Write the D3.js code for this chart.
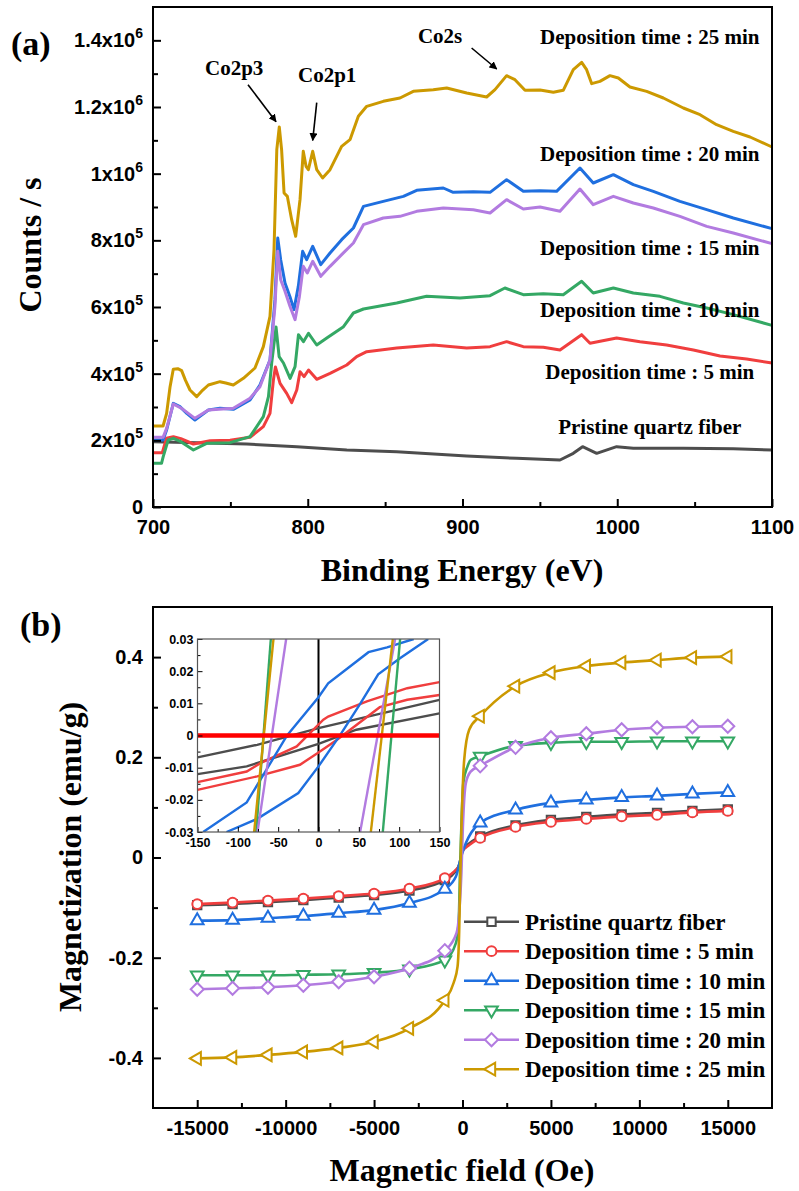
<!DOCTYPE html>
<html>
<head>
<meta charset="utf-8">
<script src="https://cdn.jsdelivr.net/npm/d3@7"></script>
<style>
	body { margin: 0; background: #fff; }
	svg { display: block; }
</style>
</head>
<body>
<svg id="chart" width="799" height="1191"></svg>
<script>
// ---- (a) XPS survey, counts in units of 10^3 ----
var xpsGray = [[700,196],[728.3,193],[760.6,189],[792.9,181],[825.2,171],[857.5,166],[902.7,153],[935,146],[963,141],[971.6,161],[977.6,181],[986.7,161],[999.6,181],[1010.4,176],[1042.7,176],[1075,175],[1100,171]];
var xpsRed = [[700,163],[706,163],[708.7,206],[713.2,211],[718,205],[726.1,189],[736.9,199],[749.8,200],[762.7,209],[771.3,241],[775.6,281],[777.8,381],[779.1,420],[782.1,371],[786.4,341],[789.6,313],[792.9,351],[795,406],[797.6,391],[800.5,411],[805.8,383],[814.4,401],[825.2,426],[831.6,451],[838.1,466],[857.5,477],[881.1,486],[902.7,477],[917.8,481],[928.5,496],[939.3,481],[952.2,479],[963,471],[977,517],[982.4,491],[999.6,507],[1014.7,496],[1031.9,486],[1049.2,471],[1066.4,453],[1083.6,444],[1100,432]];
var xpsGreen = [[700,131],[705.5,131],[706.6,151],[709.8,201],[713.2,206],[718,196],[726.1,171],[734.7,191],[749.8,193],[762.7,211],[771.3,271],[774.6,331],[776.7,432],[779.5,540],[781.5,451],[784.3,432],[788.6,386],[791.8,421],[794,517],[797.2,496],[800.5,521],[805.8,486],[812.3,507],[823.1,541],[829.5,582],[836,594],[857.5,612],[876.8,632],[898.4,627],[917.8,634],[927.4,657],[939.3,637],[952.2,640],[965.1,637],[977,677],[984.5,642],[997.5,657],[1010.4,642],[1027.6,632],[1042.7,612],[1057.8,597],[1075,577],[1100,545]];
var xpsBlue = [[700,201],[706.5,201],[708.8,231],[713.1,311],[717.4,301],[722,280],[727.1,261],[735.8,291],[743.3,296],[751.9,293],[762.7,321],[769.1,366],[775.6,441],[778.8,622],[780.6,807],[782.5,742],[785.3,672],[788.5,631],[791.1,592],[793.9,662],[796.7,767],[799.3,742],[803.2,782],[808.4,727],[814.4,762],[821.9,802],[829.5,837],[836,902],[848.8,917],[861.8,932],[870.4,950],[887.6,957],[894,944],[907,946],[917.8,944],[928.5,982],[939.3,947],[950.1,949],[960.8,947],[975.9,1017],[984.5,972],[997.5,997],[1010.4,967],[1023.3,947],[1040.5,917],[1057.8,892],[1075,867],[1100,835]];
var xpsPurple = [[700,209],[706.5,209],[708.8,236],[713.1,309],[718.5,296],[727.1,266],[735.8,291],[751.9,296],[762.7,326],[769.1,361],[775.6,441],[778.8,602],[780.6,767],[782.5,682],[785.3,647],[788.5,602],[791.8,562],[794.6,631],[797.1,722],[799.7,702],[803.2,737],[808.4,692],[814.4,722],[821.9,757],[829.5,792],[836,847],[848.8,867],[859.6,872],[870.4,887],[887.6,897],[907,892],[917.8,882],[928.5,922],[939.3,894],[950.1,900],[963,887],[975.9,954],[984.5,907],[997.5,932],[1010.4,912],[1023.3,897],[1040.5,872],[1057.8,842],[1075,822],[1100,790]];
var xpsGold = [[700,243],[706.5,243],[708.8,281],[711,360],[713.1,413],[716,415],[718.5,409],[721,380],[723.9,351],[728.2,331],[732,350],[735.8,366],[743.3,376],[747,372],[751.9,366],[758.4,386],[765.9,417],[771.3,481],[775.6,572],[778.2,772],[780,1072],[781.6,1140],[783.1,1072],[784.7,942],[786.8,932],[789.6,862],[792.2,812],[795,922],[797.1,1067],[798.9,1022],[800.4,1012],[803.2,1067],[805.8,1012],[809.6,987],[814.4,1012],[821.9,1082],[827.3,1102],[832.7,1172],[838.1,1202],[848.8,1217],[859.6,1227],[868.2,1247],[881.1,1252],[889.8,1257],[902.7,1242],[915.6,1230],[921,1252],[928.5,1294],[933.9,1282],[940.4,1250],[950.1,1251],[958.7,1244],[965.1,1250],[971.6,1312],[977,1334],[980.2,1312],[983.5,1270],[988.8,1277],[995.3,1294],[1000.7,1287],[1008.2,1260],[1019,1247],[1029.8,1227],[1042.7,1197],[1053.5,1177],[1064.2,1147],[1075,1127],[1085.8,1110],[1100,1080]];

var xpsLabels = ['Pristine quartz fiber', 'Deposition time : 5 min', 'Deposition time : 10 min', 'Deposition time : 15 min', 'Deposition time : 20 min', 'Deposition time : 25 min'];
var energyTicks = [700, 800, 900, 1000, 1100];
var energyMinor = [750, 850, 950, 1050];
var countTicks = [0, 200, 400, 600, 800, 1000, 1200, 1400];
var countMinor = [100, 300, 500, 700, 900, 1100, 1300];

// ---- (b) magnetization ----
var fieldH = [-15000,-13000,-11000,-9000,-7000,-5000,-3000,-1000,1000,3000,5000,7000,9000,11000,13000,15000];
var magGray = [-0.095,-0.093,-0.089,-0.085,-0.080,-0.075,-0.066,-0.045,0.042,0.064,0.075,0.081,0.086,0.089,0.093,0.096];
var magRed = [-0.093,-0.090,-0.086,-0.082,-0.077,-0.072,-0.062,-0.041,0.039,0.061,0.071,0.077,0.082,0.085,0.090,0.093];
var magBlue = [-0.126,-0.125,-0.121,-0.117,-0.111,-0.105,-0.091,-0.063,0.069,0.095,0.109,0.115,0.120,0.123,0.127,0.130];
var magGreen = [-0.235,-0.235,-0.235,-0.234,-0.233,-0.230,-0.223,-0.205,0.202,0.223,0.229,0.231,0.231,0.232,0.232,0.232];
var magPurple = [-0.263,-0.261,-0.259,-0.255,-0.248,-0.238,-0.221,-0.186,0.183,0.220,0.239,0.247,0.255,0.259,0.261,0.262];
var magGold = [-0.401,-0.399,-0.394,-0.388,-0.380,-0.368,-0.341,-0.285,0.282,0.342,0.369,0.382,0.389,0.394,0.399,0.401];

// points between -1000 and 1000 Oe (no markers)
var coreGray = [[-450,-0.030],[-170,-0.012],[0,0.014],[378,0.028]];
var coreRed = [[-450,-0.027],[-170,-0.015],[0,0.012],[378,0.025]];
var coreBlue = [[-373,-0.038],[-90,0.0],[192,0.029],[500,0.050]];
var coreGreen = [[-375,-0.171],[-220,-0.130],[-120,0.0],[50,0.150],[283,0.182],[475,0.195]];
var corePurple = [[-340,-0.151],[-186,-0.111],[-60,-0.030],[20,0.060],[192,0.149],[475,0.172]];
var coreGold = [[-500,-0.250],[-280,-0.218],[-186,-0.145],[-130,-0.045],[96,0.195],[378,0.255]];

var fieldTicks = [-15000, -10000, -5000, 0, 5000, 10000, 15000];
var fieldMinor = [-12500, -7500, -2500, 2500, 7500, 12500];
var magTicks = [-0.4, -0.2, 0, 0.2, 0.4];
var magMinor = [-0.3, -0.1, 0.1, 0.3];

// inset: both branches of each loop, [H, M]
var insetGray = [[[-150,-0.0068],[-76,-0.0029],[0,0.0023],[150,0.0111]], [[-150,-0.012],[-89,-0.0096],[0,-0.0026],[47,0.0018],[150,0.0069]]];
var insetRed = [[[-150,-0.0145],[-89,-0.0112],[-72,-0.0086],[-27,-0.0034],[6,0.0049],[12,0.0059],[60,0.0106],[110,0.0147],[150,0.0166]], [[-150,-0.0169],[-76,-0.0127],[-23,-0.0091],[0,-0.0053],[23,-0.0013],[76,0.0088],[110,0.0111],[150,0.0126]]];
var insetBlue = [[[-143,-0.03],[-89,-0.0208],[-39,0.0],[0,0.0119],[12,0.0162],[31,0.0199],[62,0.0259],[85,0.0274],[118,0.03]], [[-114,-0.03],[-76,-0.0259],[-25,-0.0179],[0,-0.0096],[27,0.0002],[52,0.01],[74,0.019],[101,0.024],[136,0.03]]];
var insetGreen = [[[-77.3,-0.03],[-59.1,0.03]], [[79.7,-0.03],[101.2,0.03]]];
var insetPurple = [[[-75.6,-0.03],[-40.1,0.03]], [[51.6,-0.03],[95,0.03]]];
var insetGold = [[[-79.8,-0.03],[-55.8,0.03]], [[64.9,-0.03],[92.1,0.03]]];
var insetFieldTicks = [-150, -100, -50, 0, 50, 100, 150];
var insetFieldMinor = [-125, -75, -25, 25, 75, 125];
var insetMagTicks = [-0.03, -0.02, -0.01, 0, 0.01, 0.02, 0.03];
var insetMagMinor = [-0.025, -0.015, -0.005, 0.005, 0.015, 0.025];

var serif = '"Liberation Serif","Times New Roman",serif';
var sans = '"Liberation Sans",Arial,sans-serif';
var colors = { gray: '#4d4d4d', red: '#f03e3e', blue: '#1f6fdf', green: '#34a864', purple: '#b27be0', gold: '#cc9900' };

var svg = d3.select('#chart');

function styleAxis(g, size, width) {
	g.select('.domain').remove();
	g.selectAll('line').attr('stroke', '#000').attr('stroke-width', width);
	g.selectAll('text').attr('fill', '#000').attr('font-family', sans).attr('font-weight', 'bold').attr('font-size', size);
}

function minusText(d) {
	return d3.format('')(d).replace('\u2212', '-');
}

// ================= panel (a) =================
var xA = d3.scaleLinear().domain([700, 1100]).range([153, 772]);
var yA = d3.scaleLinear().domain([0, 1500]).range([507, 7]);
var lineA = d3.line().x(d => xA(d[0])).y(d => yA(d[1]));

var gA = svg.append('g');

var xpsSeries = [
	{ data: xpsGray, color: colors.gray },
	{ data: xpsRed, color: colors.red },
	{ data: xpsGreen, color: colors.green },
	{ data: xpsBlue, color: colors.blue },
	{ data: xpsPurple, color: colors.purple },
	{ data: xpsGold, color: colors.gold }
];

xpsSeries.forEach(function(s) {
	gA.append('path')
		.datum(s.data)
		.attr('d', lineA)
		.attr('fill', 'none')
		.attr('stroke', s.color)
		.attr('stroke-width', 3)
		.attr('stroke-linejoin', 'round');
});

gA.append('g').attr('transform', 'translate(0,507)')
	.call(d3.axisBottom(xA).tickValues(energyTicks).tickSize(-8).tickPadding(13).tickFormat(d3.format('d')))
	.call(styleAxis, '20px', 2);
gA.append('g').attr('transform', 'translate(0,507)')
	.call(d3.axisBottom(xA).tickValues(energyMinor).tickSize(-5).tickFormat(''))
	.call(styleAxis, '20px', 2);

var yAxisA = gA.append('g').attr('transform', 'translate(153,0)')
	.call(d3.axisLeft(yA).tickValues(countTicks).tickSize(-8).tickPadding(10))
	.call(styleAxis, '20px', 2);
gA.append('g').attr('transform', 'translate(153,0)')
	.call(d3.axisLeft(yA).tickValues(countMinor).tickSize(-5).tickFormat(''))
	.call(styleAxis, '20px', 2);

// labels like 2x10^5
yAxisA.selectAll('text').each(function(d) {
	var t = d3.select(this);
	t.text(null);
	if (d === 0) { t.text('0'); return; }
	var exp = d >= 1000 ? 6 : 5;
	var mant = +(d * 1000 / Math.pow(10, exp)).toFixed(1);
	t.append('tspan').text(mant + 'x10');
	t.append('tspan').attr('dy', '-9').attr('font-size', '14px').text(exp);
});

gA.append('rect')
	.attr('x', 153).attr('y', 7).attr('width', 619).attr('height', 500)
	.attr('fill', 'none').attr('stroke', '#000').attr('stroke-width', 2);

// series captions
var captionPos = [[1021, 219], [1021, 383], [1021, 571], [1021, 757], [1021, 1037], [1021, 1390]];
gA.selectAll('.caption')
	.data(xpsLabels)
	.enter()
	.append('text')
	.attr('class', 'caption')
	.attr('x', (d, i) => xA(captionPos[i][0]))
	.attr('y', (d, i) => yA(captionPos[i][1]))
	.attr('text-anchor', 'middle')
	.attr('font-family', serif)
	.attr('font-weight', 'bold')
	.attr('font-size', '21px')
	.text(d => d);

// peak annotations
var defs = svg.append('defs');
defs.append('marker')
	.attr('id', 'arrow')
	.attr('viewBox', '0 0 10 10')
	.attr('refX', 9).attr('refY', 5)
	.attr('markerWidth', 5).attr('markerHeight', 5)
	.attr('orient', 'auto')
	.append('path').attr('d', 'M0,0L10,5L0,10z').attr('fill', '#000');

var peaks = [
	{ name: 'Co2p3', text: [733.6, 1297], from: [761.4, 1267], to: [779.5, 1156] },
	{ name: 'Co2p1', text: [793.7, 1276], from: [805.8, 1213], to: [803.2, 1100] },
	{ name: 'Co2s', text: [871.2, 1393], from: [905.9, 1377], to: [922.1, 1314] }
];
peaks.forEach(function(p) {
	gA.append('text')
		.attr('x', xA(p.text[0])).attr('y', yA(p.text[1]))
		.attr('font-family', serif).attr('font-weight', 'bold').attr('font-size', '21px')
		.text(p.name);
	gA.append('line')
		.attr('x1', xA(p.from[0])).attr('y1', yA(p.from[1]))
		.attr('x2', xA(p.to[0])).attr('y2', yA(p.to[1]))
		.attr('stroke', '#000').attr('stroke-width', 1.6)
		.attr('marker-end', 'url(#arrow)');
});

gA.append('text')
	.attr('transform', 'translate(41,245) rotate(-90)')
	.attr('text-anchor', 'middle')
	.attr('font-family', serif).attr('font-weight', 'bold').attr('font-size', '32px')
	.text('Counts / s');
gA.append('text')
	.attr('x', 462).attr('y', 581)
	.attr('text-anchor', 'middle')
	.attr('font-family', serif).attr('font-weight', 'bold').attr('font-size', '32px')
	.text('Binding Energy (eV)');
gA.append('text')
	.attr('x', 11).attr('y', 55)
	.attr('font-family', serif).attr('font-weight', 'bold').attr('font-size', '34px')
	.text('(a)');

// ================= panel (b) =================
var xB = d3.scaleLinear().domain([-17500, 17500]).range([153, 772]);
var yB = d3.scaleLinear().domain([-0.5, 0.5]).range([1108, 607]);
var lineB = d3.line().x(d => xB(d[0])).y(d => yB(d[1]));

var gB = svg.append('g');

gB.append('g').attr('transform', 'translate(0,1108)')
	.call(d3.axisBottom(xB).tickValues(fieldTicks).tickSize(-8).tickPadding(13).tickFormat(minusText))
	.call(styleAxis, '20px', 2);
gB.append('g').attr('transform', 'translate(0,1108)')
	.call(d3.axisBottom(xB).tickValues(fieldMinor).tickSize(-5).tickFormat(''))
	.call(styleAxis, '20px', 2);
gB.append('g').attr('transform', 'translate(153,0)')
	.call(d3.axisLeft(yB).tickValues(magTicks).tickSize(-8).tickPadding(10).tickFormat(minusText))
	.call(styleAxis, '20px', 2);
gB.append('g').attr('transform', 'translate(153,0)')
	.call(d3.axisLeft(yB).tickValues(magMinor).tickSize(-5).tickFormat(''))
	.call(styleAxis, '20px', 2);

var symTriDown = { draw: function(ctx, size) { d3.symbolTriangle.draw(ctx, size); } };

var magSeries = [
	{ name: xpsLabels[0], mag: magGray, core: coreGray, color: colors.gray, symbol: d3.symbolSquare, size: 70, rotate: 0 },
	{ name: xpsLabels[1], mag: magRed, core: coreRed, color: colors.red, symbol: d3.symbolCircle, size: 75, rotate: 0 },
	{ name: xpsLabels[2], mag: magBlue, core: coreBlue, color: colors.blue, symbol: d3.symbolTriangle, size: 70, rotate: 0 },
	{ name: xpsLabels[3], mag: magGreen, core: coreGreen, color: colors.green, symbol: d3.symbolTriangle, size: 70, rotate: 180 },
	{ name: xpsLabels[4], mag: magPurple, core: corePurple, color: colors.purple, symbol: d3.symbolSquare, size: 85, rotate: 45 },
	{ name: xpsLabels[5], mag: magGold, core: coreGold, color: colors.gold, symbol: d3.symbolTriangle, size: 70, rotate: -90 }
];

magSeries.forEach(function(s) {
	var pts = fieldH.map((h, i) => [h, s.mag[i]]);
	var all = pts.concat(s.core).sort((a, b) => a[0] - b[0]);
	gB.append('path')
		.datum(all)
		.attr('d', lineB.curve(d3.curveMonotoneX))
		.attr('fill', 'none')
		.attr('stroke', s.color)
		.attr('stroke-width', 2.6)
		.attr('stroke-linejoin', 'round');
	gB.selectAll(null)
		.data(pts)
		.enter()
		.append('path')
		.attr('d', d3.symbol().type(s.symbol).size(s.size))
		.attr('transform', d => 'translate(' + xB(d[0]) + ',' + yB(d[1]) + ') rotate(' + s.rotate + ')')
		.attr('fill', '#fff')
		.attr('stroke', s.color)
		.attr('stroke-width', 2);
});

gB.append('rect')
	.attr('x', 153).attr('y', 607).attr('width', 619).attr('height', 501)
	.attr('fill', 'none').attr('stroke', '#000').attr('stroke-width', 2);

// legend
var legend = gB.selectAll('.legend')
	.data(magSeries)
	.enter()
	.append('g')
	.attr('class', 'legend')
	.attr('transform', (d, i) => 'translate(464,' + (921.7 + i * 29.5) + ')');
legend.append('line')
	.attr('x1', 0).attr('x2', 55)
	.attr('stroke', d => d.color).attr('stroke-width', 2.4);
legend.append('path')
	.attr('d', d => d3.symbol().type(d.symbol).size(d.size)())
	.attr('transform', d => 'translate(27.5,0) rotate(' + d.rotate + ')')
	.attr('fill', '#fff')
	.attr('stroke', d => d.color)
	.attr('stroke-width', 2);
legend.append('text')
	.attr('x', 61).attr('y', 8)
	.attr('font-family', serif).attr('font-weight', 'bold').attr('font-size', '23px')
	.text(d => d.name);

// inset
var xI = d3.scaleLinear().domain([-150, 150]).range([197.5, 439.5]);
var yI = d3.scaleLinear().domain([-0.03, 0.03]).range([832, 639]);
var lineI = d3.line().x(d => xI(d[0])).y(d => yI(d[1]));
var gI = gB.append('g');

gI.append('rect')
	.attr('x', 197.5).attr('y', 639).attr('width', 242).attr('height', 193)
	.attr('fill', '#fff');

defs.append('clipPath').attr('id', 'insetClip')
	.append('rect').attr('x', 197.5).attr('y', 639).attr('width', 242).attr('height', 193);

var gIc = gI.append('g').attr('clip-path', 'url(#insetClip)');
gIc.append('line')
	.attr('x1', xI(0)).attr('x2', xI(0)).attr('y1', 639).attr('y2', 832)
	.attr('stroke', '#000').attr('stroke-width', 2);

var insetSeries = [
	{ data: insetGray, color: colors.gray },
	{ data: insetRed, color: colors.red },
	{ data: insetBlue, color: colors.blue },
	{ data: insetGreen, color: colors.green },
	{ data: insetPurple, color: colors.purple },
	{ data: insetGold, color: colors.gold }
];
insetSeries.forEach(function(s) {
	s.data.forEach(function(branch) {
		gIc.append('path')
			.datum(branch)
			.attr('d', lineI)
			.attr('fill', 'none')
			.attr('stroke', s.color)
			.attr('stroke-width', 2.4);
	});
});

gIc.append('line')
	.attr('x1', 197.5).attr('x2', 439.5).attr('y1', yI(0)).attr('y2', yI(0))
	.attr('stroke', '#ff0000').attr('stroke-width', 4.5);

gI.append('g').attr('transform', 'translate(0,832)')
	.call(d3.axisBottom(xI).tickValues(insetFieldTicks).tickSize(-5).tickPadding(6).tickFormat(minusText))
	.call(styleAxis, '12.5px', 1);
gI.append('g').attr('transform', 'translate(0,832)')
	.call(d3.axisBottom(xI).tickValues(insetFieldMinor).tickSize(-3).tickFormat(''))
	.call(styleAxis, '12.5px', 1);
gI.append('g').attr('transform', 'translate(197.5,0)')
	.call(d3.axisLeft(yI).tickValues(insetMagTicks).tickSize(-5).tickPadding(4).tickFormat(minusText))
	.call(styleAxis, '12.5px', 1);
gI.append('g').attr('transform', 'translate(197.5,0)')
	.call(d3.axisLeft(yI).tickValues(insetMagMinor).tickSize(-3).tickFormat(''))
	.call(styleAxis, '12.5px', 1);

gI.append('rect')
	.attr('x', 197.5).attr('y', 639).attr('width', 242).attr('height', 193)
	.attr('fill', 'none').attr('stroke', '#555').attr('stroke-width', 1.2);

gB.append('text')
	.attr('transform', 'translate(81,857) rotate(-90)')
	.attr('text-anchor', 'middle')
	.attr('font-family', serif).attr('font-weight', 'bold').attr('font-size', '32px')
	.text('Magnetization (emu/g)');
gB.append('text')
	.attr('x', 462).attr('y', 1181)
	.attr('text-anchor', 'middle')
	.attr('font-family', serif).attr('font-weight', 'bold').attr('font-size', '32px')
	.text('Magnetic field (Oe)');
gB.append('text')
	.attr('x', 20).attr('y', 636)
	.attr('font-family', serif).attr('font-weight', 'bold').attr('font-size', '34px')
	.text('(b)');
</script>
</body>
</html>
